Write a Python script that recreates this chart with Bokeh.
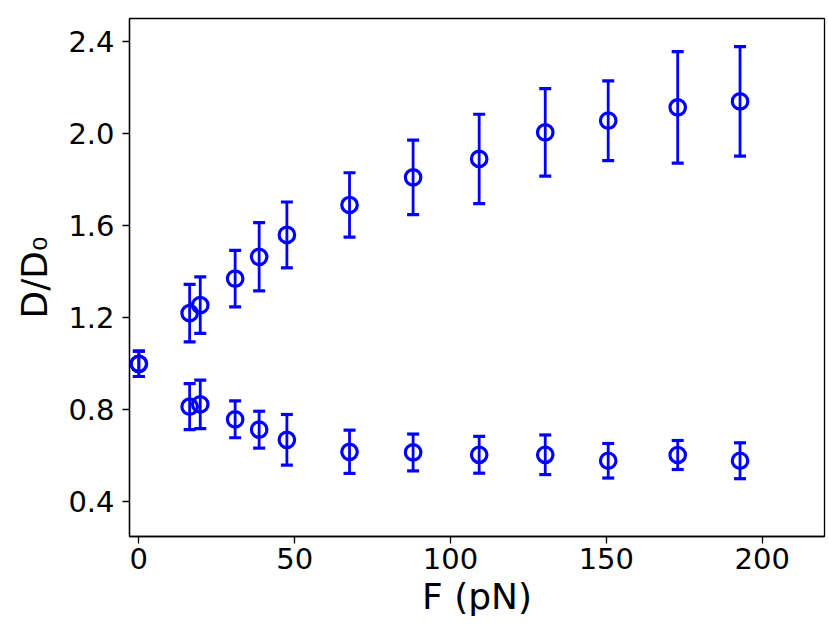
from bokeh.plotting import figure
from bokeh.models import ColumnDataSource, Whisker, TeeHead, FixedTicker, NumeralTickFormatter, Range1d
from bokeh.embed import file_html
from bokeh.resources import INLINE

# Data
force = [0, 16.3, 19.7, 30.9, 38.6, 47.5, 67.6, 88.0, 109.2, 130.4, 150.6, 172.9, 192.9]
upper_mean = [1.00, 1.22, 1.255, 1.37, 1.465, 1.56, 1.69, 1.81, 1.89, 2.005, 2.056, 2.114, 2.14]
upper_err = [0.055, 0.125, 0.123, 0.123, 0.148, 0.143, 0.14, 0.162, 0.194, 0.19, 0.173, 0.242, 0.238]
lower_mean = [1.00, 0.814, 0.824, 0.759, 0.714, 0.670, 0.618, 0.615, 0.605, 0.605, 0.579, 0.604, 0.579]
lower_err = [0.055, 0.10, 0.105, 0.08, 0.08, 0.11, 0.094, 0.08, 0.08, 0.086, 0.075, 0.063, 0.078]
x_ticks = [0, 50, 100, 150, 200]
y_ticks = [0.4, 0.8, 1.2, 1.6, 2.0, 2.4]

FONT = "DejaVu Sans"
BLUE = "#0000ff"

p = figure(width=828, height=630, output_backend="svg", toolbar_location=None,
           x_range=Range1d(-3, 220), y_range=Range1d(0.25, 2.5),
           min_border_left=129, min_border_right=4, min_border_top=18, min_border_bottom=94)
p.xgrid.visible = False
p.ygrid.visible = False
p.outline_line_color = "black"
p.outline_line_width = 1.3
p.background_fill_color = "white"
p.border_fill_color = "white"

def series(mean, err):
    src = ColumnDataSource(dict(
        x=force, y=mean,
        lo=[m - e for m, e in zip(mean, err)],
        hi=[m + e for m, e in zip(mean, err)]))
    w = Whisker(source=src, base="x", upper="hi", lower="lo", dimension="height",
                line_color=BLUE, line_width=2.8,
                upper_head=TeeHead(size=12, line_color=BLUE, line_width=3.2),
                lower_head=TeeHead(size=12, line_color=BLUE, line_width=3.2))
    p.add_layout(w)
    p.scatter("x", "y", source=src, marker="circle", size=15.5,
              fill_color=None, line_color=BLUE, line_width=3.2)

series(upper_mean, upper_err)
series(lower_mean, lower_err)

for ax in (p.xaxis[0], p.yaxis[0]):
    ax.axis_line_color = "black"
    ax.axis_line_width = 1.3
    ax.major_tick_line_color = "black"
    ax.major_tick_line_width = 1.3
    ax.major_tick_out = 7
    ax.major_tick_in = 0
    ax.minor_tick_out = 0
    ax.minor_tick_in = 0
    ax.major_label_text_font = FONT
    ax.major_label_text_font_size = "29px"
    ax.major_label_text_color = "black"
    ax.axis_label_text_font = FONT
    ax.axis_label_text_font_size = "36px"
    ax.axis_label_text_font_style = "normal"
    ax.axis_label_text_color = "black"

p.xaxis[0].ticker = FixedTicker(ticks=x_ticks)
p.yaxis[0].ticker = FixedTicker(ticks=y_ticks)
p.yaxis[0].formatter = NumeralTickFormatter(format="0.0")
p.xaxis[0].axis_label = "F (pN)"
p.yaxis[0].axis_label = "D/D₀"
p.xaxis[0].major_label_standoff = 4
p.yaxis[0].major_label_standoff = 8
p.xaxis[0].axis_label_standoff = 4
p.yaxis[0].axis_label_standoff = 10

open("out.html", "w").write(file_html(p, INLINE))
